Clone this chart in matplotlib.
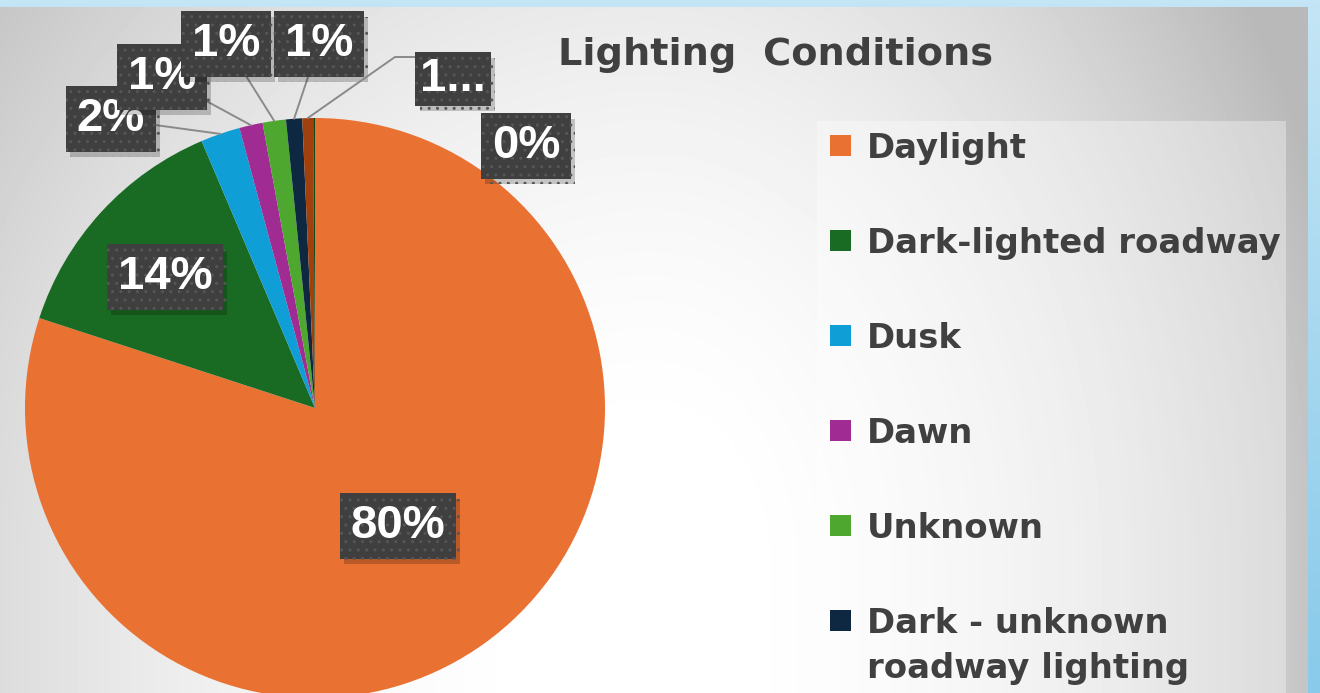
import numpy as np
import matplotlib.pyplot as plt
import matplotlib.patheffects as pe
from matplotlib.patches import Rectangle
from matplotlib.colors import LinearSegmentedColormap

# data
categories = ['Daylight', 'Dark-lighted roadway', 'Dusk', 'Dawn', 'Unknown',
              'Dark - unknown\nroadway lighting', 'Dark-roadway not lighted', 'Other']
values = [80.1, 13.6, 2.2, 1.3, 1.3, 0.9, 0.6, 0.1]
colors = ['#E97132', '#196B24', '#0F9ED5', '#A02B93', '#4EA72E', '#0E2841', '#A0410D', '#114A19']

W, H = 1320, 693


def py(y):
    # pixel row (from top) -> data y (from bottom)
    return H - y


fig = plt.figure(figsize=(13.2, 6.93), dpi=100)

# light blue frame
frame = fig.add_axes([0, 0, 1, 1])
frame.imshow(np.linspace(0, 1, 200)[:, None],
             cmap=LinearSegmentedColormap.from_list('b', ['#c4e5f5', '#89caea']),
             aspect='auto')
frame.axis('off')

# chart area with soft grey gradient (bright in lower middle)
bg = fig.add_axes([0, 0, 1308 / W, 686 / H])
yy, xx = np.mgrid[0:686, 0:1308]
fx = np.where(xx < 650, 36, 58) * ((xx - 650) / 650.0) ** 2
fy = 22 * (np.clip(560 - yy, 0, None) / 560.0) ** 2
img = np.clip(256 - fx - fy, 185, 255) / 255
bg.imshow(img, cmap='gray', vmin=0, vmax=1, aspect='auto')
bg.axis('off')

ax = fig.add_axes([0, 0, 1, 1])
ax.patch.set_alpha(0)

# legend panel (semi transparent white)
ax.add_patch(Rectangle((817, 0), 1286 - 817, py(121), facecolor='white', alpha=0.35, lw=0))

pie_c = (315, py(408))
pie_r = 290
wedges, _ = ax.pie(values, colors=colors, startangle=90, counterclock=False,
                   center=pie_c, radius=pie_r, wedgeprops=dict(linewidth=0))
ax.set_xlim(0, W)
ax.set_ylim(0, H)
ax.set_aspect('auto')
ax.axis('off')

total = sum(values)
labels = ['%d%%' % round(v / total * 100) for v in values]
labels[6] = labels[6][:1] + '...'   # truncated in the original box

label_pos = [(398, 526), (165, 277), (111, 119), (162, 77), (226, 44),
             (319, 44), (453, 79), (526, 146)]
leader = [False, False, True, True, True, True, True, False]

for i, w in enumerate(wedges):
    ang = np.deg2rad((w.theta1 + w.theta2) / 2)
    edge = (pie_c[0] + pie_r * np.cos(ang), pie_c[1] + pie_r * np.sin(ang))
    lx, ly = label_pos[i]
    pad = 0.1 if i == 6 else 0.23
    box = dict(boxstyle='square,pad=%s' % pad, fc='#3f3f3f', ec='#565656',
               lw=0, hatch='..')
    kw = dict(ha='center', va='center', fontsize=34, fontweight='bold',
              color='white', family='Liberation Sans', bbox=box, zorder=5)
    if leader[i]:
        if i == 6:
            arrow = dict(arrowstyle='-', color='#8a8a8a', lw=1.4, shrinkA=0, shrinkB=0,
                         relpos=(0, 1), connectionstyle='angle,angleA=180,angleB=35,rad=0')
        else:
            arrow = dict(arrowstyle='-', color='#8a8a8a', lw=1.4, shrinkA=0, shrinkB=0)
        t = ax.annotate(labels[i], xy=edge, xytext=(lx, py(ly)), arrowprops=arrow, **kw)
    else:
        t = ax.text(lx, py(ly), labels[i], **kw)
    t.get_bbox_patch().set_path_effects(
        [pe.SimplePatchShadow(offset=(3, -4), shadow_rgbFace='black', alpha=0.2), pe.Normal()])

# title
ax.text(776, py(55), 'Lighting  Conditions', ha='center', va='center', fontsize=27.5,
        fontweight='bold', family='DejaVu Sans', color='#404040')

# legend (entries past the bottom edge are cut off, as in the original)
for i, (name, c) in enumerate(zip(categories, colors)):
    yc = 145 + 95 * i
    if yc - 13 > H:
        continue
    ax.add_patch(Rectangle((830, py(yc) - 10.5), 21, 21, facecolor=c, lw=0))
    ax.text(867, py(yc - 13), name, ha='left', va='top', fontsize=24.4,
            fontweight='bold', family='DejaVu Sans', color='#404040', linespacing=1.45)

fig.savefig('out.png', dpi=100)
